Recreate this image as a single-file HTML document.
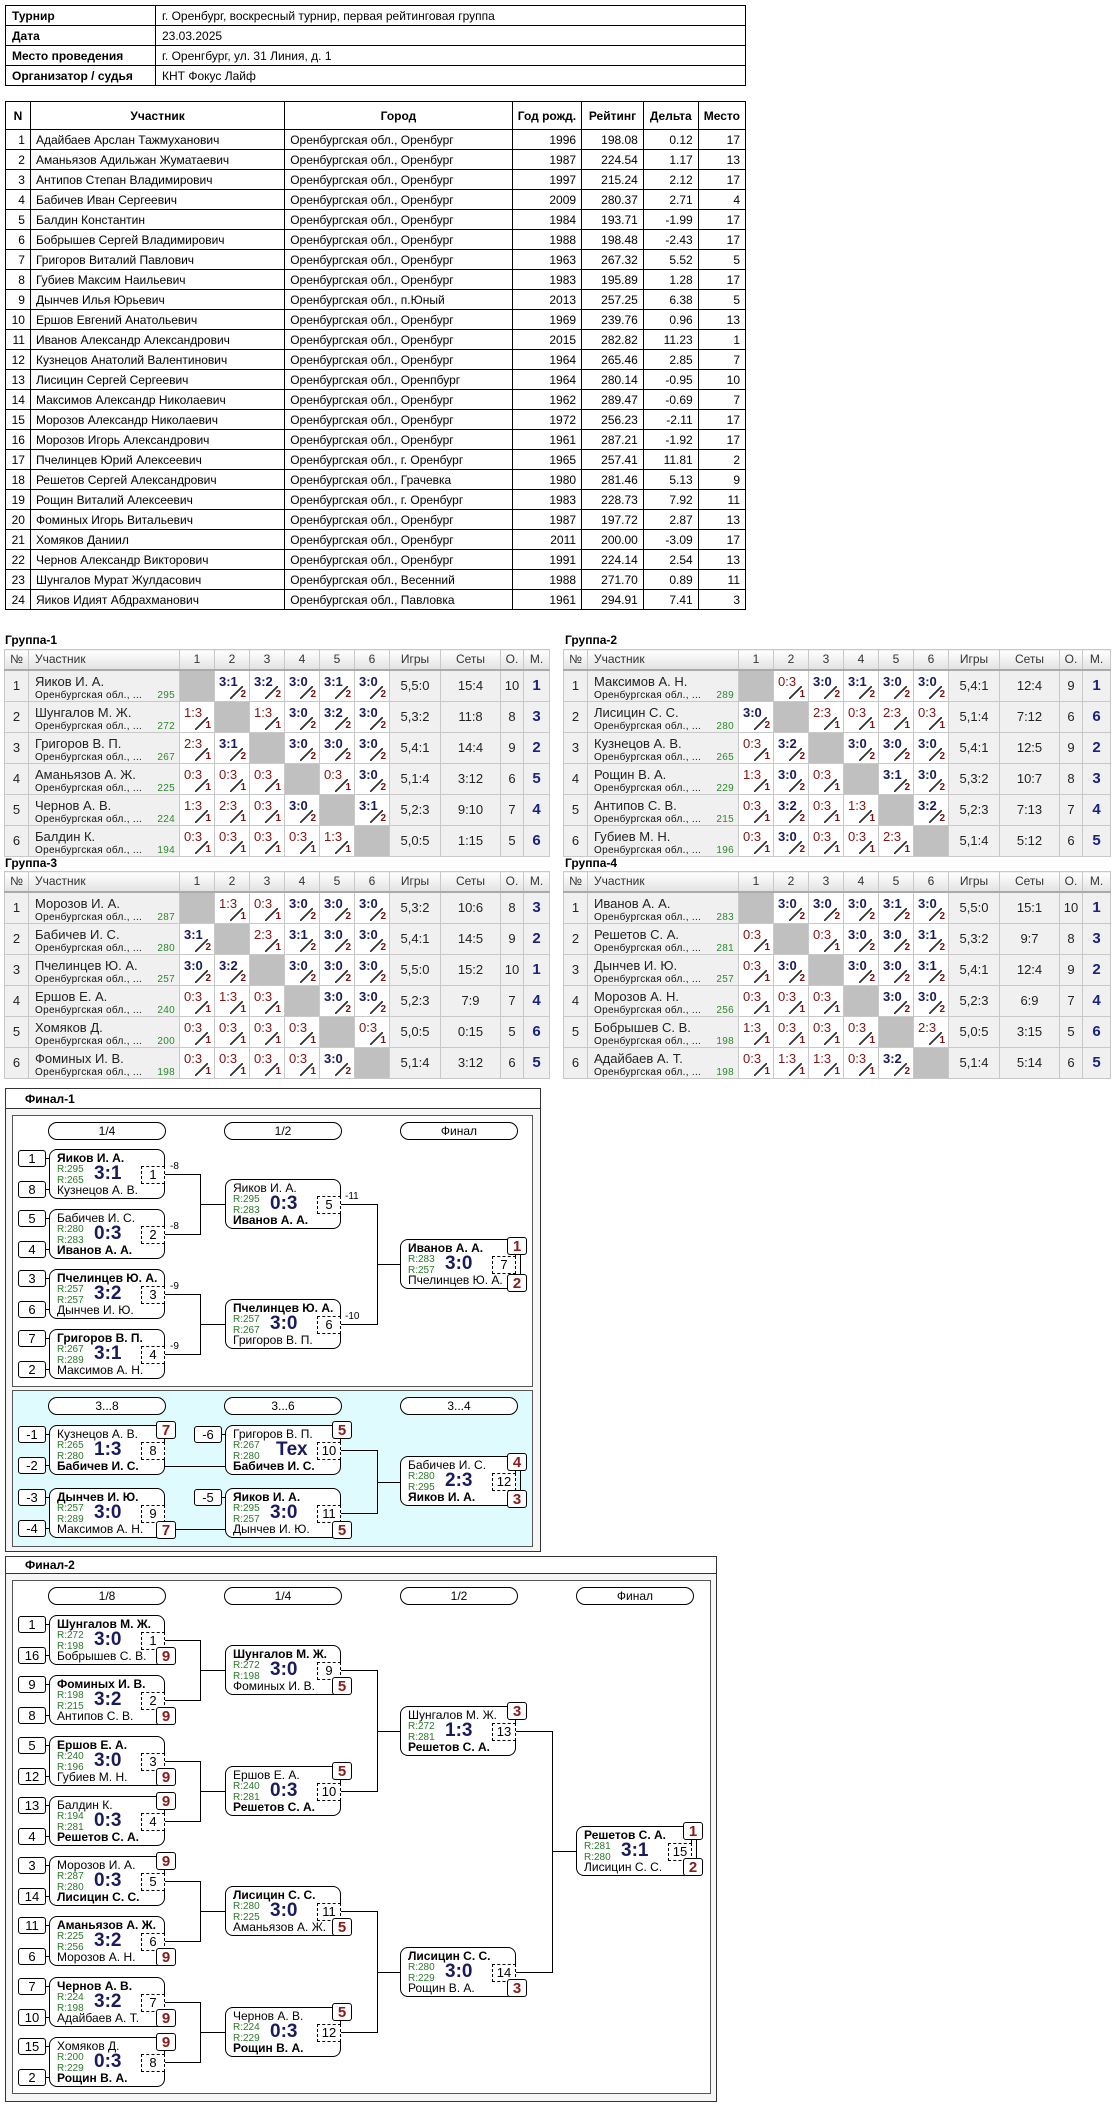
<!DOCTYPE html>
<html><head><meta charset="utf-8">
<style>
*{box-sizing:border-box}
body{margin:0;width:1116px;height:2103px;position:relative;background:#fff;font-family:"Liberation Sans",Arial,sans-serif;color:#000;overflow:hidden}
table{border-collapse:collapse;position:absolute}
.info td{border:1px solid #000;height:20px;font-size:12px;padding:0 6px}
.info td.l{font-weight:bold;width:150px}
.main td{border:1px solid #000;height:20px;font-size:12px;padding:0 5px;white-space:nowrap}
.main tr.hd td{height:28px;font-weight:bold;text-align:center}
.main td.r{text-align:right}
.gt{position:absolute;font-weight:bold;font-size:12px}
.g{table-layout:fixed}
.g td{border:1px solid #c8c8c8;height:30px;font-size:13px;color:#222;padding:0;position:relative;text-align:center}
.g tr.hd td{height:20px;background:linear-gradient(#fff,#e2e2e2);border-bottom:2px solid #aaa;font-size:12px;color:#333}
.g tr.hd td.u{text-align:left;padding-left:6px}
.g td.nm{background:#f0f0f0;text-align:left;padding-left:6px;vertical-align:top}
.g td.nm b{display:block;font-weight:normal;font-size:13px;line-height:13px;margin-top:4px}
.g td.nm s{text-decoration:none;display:block;font-size:10px;line-height:11px;margin-top:2px;letter-spacing:.3px;color:#111}
.g td.nm s em{font-style:normal;color:#2a8a2a;position:absolute;right:4px}
.g td.nb{background:#f0f0f0}
.g td.x{background:#c0c0c0}
.g td.st{background:#f0f0f0}
.g td.pl{background:#f0f0f0;font-weight:bold;font-size:15px;color:#1a237e}
.g td.c{background:#fff}
.c b,.c u{position:absolute;left:4px;top:3px;font-size:13px;text-decoration:none}
.c b{color:#1a1a5e}
.c u{color:#7a1515;font-weight:normal}
.c i{position:absolute;right:3px;bottom:1px;font-style:normal;font-weight:bold;font-size:10px;color:#7a1010}
.c:after{content:"";position:absolute;right:6px;bottom:2px;width:13px;height:13px;background:linear-gradient(to top left,transparent 46%,#333 46%,#333 54%,transparent 54%)}
.bx{position:absolute;border:1px solid #000}
.m{position:absolute;width:116px;height:50px;border:1px solid #000;border-radius:8px;background:#fff;font-size:12px;white-space:nowrap}
.m .a{position:absolute;left:7px;top:1px;line-height:15px}
.m .b{position:absolute;left:7px;top:33px;line-height:15px}
.m .w{font-weight:bold}
.m .r1,.m .r2{position:absolute;left:7px;font-size:10px;line-height:10px;color:#2a7a2a}
.m .r1{top:15px}.m .r2{top:26px}
.m .s{position:absolute;left:44px;top:13px;font-size:19px;font-weight:bold;color:#1a1a5e;line-height:22px}
.m .n{position:absolute;right:-1px;top:16px;width:24px;height:18px;border:1px dashed #000;font-size:13px;text-align:center;line-height:16px;background:#fff}
.sd{position:absolute;width:28px;height:17px;border:1px solid #000;border-radius:3px;font-size:13px;text-align:center;line-height:15px;background:#fff}
.sd:after{content:"";position:absolute;right:-6px;top:7px;width:5px;border-top:1px solid #000}
.p{position:absolute;width:20px;height:18px;border:1px solid #000;border-radius:3px;background:#fff;color:#8b1a1a;font-weight:bold;font-size:15px;text-align:center;line-height:17px}
.pill{position:absolute;width:118px;height:18px;border:1px solid #000;border-radius:9px;font-size:12px;text-align:center;line-height:16px;background:#fff}
.h{position:absolute;border-top:1px solid #000;height:0}
.v{position:absolute;border-left:1px solid #000;width:0}
.lb{position:absolute;font-size:10px}
</style></head><body>

<table class="info" style="left:5px;top:5px;width:741px">
<tr><td class="l">Турнир</td><td>г. Оренбург, воскресный турнир, первая рейтинговая группа</td></tr>
<tr><td class="l">Дата</td><td>23.03.2025</td></tr>
<tr><td class="l">Место проведения</td><td>г. Оренгбург, ул. 31 Линия, д. 1</td></tr>
<tr><td class="l">Организатор / судья</td><td>КНТ Фокус Лайф</td></tr>
</table>

<table class="main" style="left:5px;top:101px;width:741px">
<tr class="hd"><td style="width:25px">N</td><td style="width:257px">Участник</td><td style="width:230px">Город</td><td style="width:68px">Год рожд.</td><td style="width:62px">Рейтинг</td><td style="width:55px">Дельта</td><td style="width:44px">Место</td></tr>
<tr><td class="r">1</td><td>Адайбаев Арслан Тажмуханович</td><td>Оренбургская обл., Оренбург</td><td class="r">1996</td><td class="r">198.08</td><td class="r">0.12</td><td class="r">17</td></tr>
<tr><td class="r">2</td><td>Аманьязов Адильжан Жуматаевич</td><td>Оренбургская обл., Оренбург</td><td class="r">1987</td><td class="r">224.54</td><td class="r">1.17</td><td class="r">13</td></tr>
<tr><td class="r">3</td><td>Антипов Степан Владимирович</td><td>Оренбургская обл., Оренбург</td><td class="r">1997</td><td class="r">215.24</td><td class="r">2.12</td><td class="r">17</td></tr>
<tr><td class="r">4</td><td>Бабичев Иван Сергеевич</td><td>Оренбургская обл., Оренбург</td><td class="r">2009</td><td class="r">280.37</td><td class="r">2.71</td><td class="r">4</td></tr>
<tr><td class="r">5</td><td>Балдин Константин</td><td>Оренбургская обл., Оренбург</td><td class="r">1984</td><td class="r">193.71</td><td class="r">-1.99</td><td class="r">17</td></tr>
<tr><td class="r">6</td><td>Бобрышев Сергей Владимирович</td><td>Оренбургская обл., Оренбург</td><td class="r">1988</td><td class="r">198.48</td><td class="r">-2.43</td><td class="r">17</td></tr>
<tr><td class="r">7</td><td>Григоров Виталий Павлович</td><td>Оренбургская обл., Оренбург</td><td class="r">1963</td><td class="r">267.32</td><td class="r">5.52</td><td class="r">5</td></tr>
<tr><td class="r">8</td><td>Губиев Максим Наильевич</td><td>Оренбургская обл., Оренбург</td><td class="r">1983</td><td class="r">195.89</td><td class="r">1.28</td><td class="r">17</td></tr>
<tr><td class="r">9</td><td>Дынчев Илья Юрьевич</td><td>Оренбургская обл., п.Юный</td><td class="r">2013</td><td class="r">257.25</td><td class="r">6.38</td><td class="r">5</td></tr>
<tr><td class="r">10</td><td>Ершов Евгений Анатольевич</td><td>Оренбургская обл., Оренбург</td><td class="r">1969</td><td class="r">239.76</td><td class="r">0.96</td><td class="r">13</td></tr>
<tr><td class="r">11</td><td>Иванов Александр Александрович</td><td>Оренбургская обл., Оренбург</td><td class="r">2015</td><td class="r">282.82</td><td class="r">11.23</td><td class="r">1</td></tr>
<tr><td class="r">12</td><td>Кузнецов Анатолий Валентинович</td><td>Оренбургская обл., Оренбург</td><td class="r">1964</td><td class="r">265.46</td><td class="r">2.85</td><td class="r">7</td></tr>
<tr><td class="r">13</td><td>Лисицин Сергей Сергеевич</td><td>Оренбургская обл., Оренпбург</td><td class="r">1964</td><td class="r">280.14</td><td class="r">-0.95</td><td class="r">10</td></tr>
<tr><td class="r">14</td><td>Максимов Александр Николаевич</td><td>Оренбургская обл., Оренбург</td><td class="r">1962</td><td class="r">289.47</td><td class="r">-0.69</td><td class="r">7</td></tr>
<tr><td class="r">15</td><td>Морозов Александр Николаевич</td><td>Оренбургская обл., Оренбург</td><td class="r">1972</td><td class="r">256.23</td><td class="r">-2.11</td><td class="r">17</td></tr>
<tr><td class="r">16</td><td>Морозов Игорь Александрович</td><td>Оренбургская обл., Оренбург</td><td class="r">1961</td><td class="r">287.21</td><td class="r">-1.92</td><td class="r">17</td></tr>
<tr><td class="r">17</td><td>Пчелинцев Юрий Алексеевич</td><td>Оренбургская обл., г. Оренбург</td><td class="r">1965</td><td class="r">257.41</td><td class="r">11.81</td><td class="r">2</td></tr>
<tr><td class="r">18</td><td>Решетов Сергей Александрович</td><td>Оренбургская обл., Грачевка</td><td class="r">1980</td><td class="r">281.46</td><td class="r">5.13</td><td class="r">9</td></tr>
<tr><td class="r">19</td><td>Рощин Виталий Алексеевич</td><td>Оренбургская обл., г. Оренбург</td><td class="r">1983</td><td class="r">228.73</td><td class="r">7.92</td><td class="r">11</td></tr>
<tr><td class="r">20</td><td>Фоминых Игорь Витальевич</td><td>Оренбургская обл., Оренбург</td><td class="r">1987</td><td class="r">197.72</td><td class="r">2.87</td><td class="r">13</td></tr>
<tr><td class="r">21</td><td>Хомяков Даниил</td><td>Оренбургская обл., Оренбург</td><td class="r">2011</td><td class="r">200.00</td><td class="r">-3.09</td><td class="r">17</td></tr>
<tr><td class="r">22</td><td>Чернов Александр Викторович</td><td>Оренбургская обл., Оренбург</td><td class="r">1991</td><td class="r">224.14</td><td class="r">2.54</td><td class="r">13</td></tr>
<tr><td class="r">23</td><td>Шунгалов Мурат Жулдасович</td><td>Оренбургская обл., Весенний</td><td class="r">1988</td><td class="r">271.70</td><td class="r">0.89</td><td class="r">11</td></tr>
<tr><td class="r">24</td><td>Яиков Идият Абдрахманович</td><td>Оренбургская обл., Павловка</td><td class="r">1961</td><td class="r">294.91</td><td class="r">7.41</td><td class="r">3</td></tr>
</table>

<!-- GROUP 1 -->
<div class="gt" style="left:5px;top:633px">Группа-1</div>
<table class="g" style="left:4px;top:649px;width:545px">
<colgroup><col style="width:24px"><col style="width:151px"><col style="width:35px"><col style="width:35px"><col style="width:35px"><col style="width:35px"><col style="width:35px"><col style="width:35px"><col style="width:51px"><col style="width:60px"><col style="width:23px"><col style="width:26px"></colgroup>
<tr class="hd"><td>№</td><td class="u">Участник</td><td>1</td><td>2</td><td>3</td><td>4</td><td>5</td><td>6</td><td>Игры</td><td>Сеты</td><td>О.</td><td>М.</td></tr>
<tr><td class="nb">1</td><td class="nm"><b>Яиков И. А.</b><s>Оренбургская обл., ...<em>295</em></s></td><td class="x"></td><td class="c"><b>3:1</b><i>2</i></td><td class="c"><b>3:2</b><i>2</i></td><td class="c"><b>3:0</b><i>2</i></td><td class="c"><b>3:1</b><i>2</i></td><td class="c"><b>3:0</b><i>2</i></td><td class="st">5,5:0</td><td class="st">15:4</td><td class="st">10</td><td class="pl">1</td></tr>
<tr><td class="nb">2</td><td class="nm"><b>Шунгалов М. Ж.</b><s>Оренбургская обл., ...<em>272</em></s></td><td class="c"><u>1:3</u><i>1</i></td><td class="x"></td><td class="c"><u>1:3</u><i>1</i></td><td class="c"><b>3:0</b><i>2</i></td><td class="c"><b>3:2</b><i>2</i></td><td class="c"><b>3:0</b><i>2</i></td><td class="st">5,3:2</td><td class="st">11:8</td><td class="st">8</td><td class="pl">3</td></tr>
<tr><td class="nb">3</td><td class="nm"><b>Григоров В. П.</b><s>Оренбургская обл., ...<em>267</em></s></td><td class="c"><u>2:3</u><i>1</i></td><td class="c"><b>3:1</b><i>2</i></td><td class="x"></td><td class="c"><b>3:0</b><i>2</i></td><td class="c"><b>3:0</b><i>2</i></td><td class="c"><b>3:0</b><i>2</i></td><td class="st">5,4:1</td><td class="st">14:4</td><td class="st">9</td><td class="pl">2</td></tr>
<tr><td class="nb">4</td><td class="nm"><b>Аманьязов А. Ж.</b><s>Оренбургская обл., ...<em>225</em></s></td><td class="c"><u>0:3</u><i>1</i></td><td class="c"><u>0:3</u><i>1</i></td><td class="c"><u>0:3</u><i>1</i></td><td class="x"></td><td class="c"><u>0:3</u><i>1</i></td><td class="c"><b>3:0</b><i>2</i></td><td class="st">5,1:4</td><td class="st">3:12</td><td class="st">6</td><td class="pl">5</td></tr>
<tr><td class="nb">5</td><td class="nm"><b>Чернов А. В.</b><s>Оренбургская обл., ...<em>224</em></s></td><td class="c"><u>1:3</u><i>1</i></td><td class="c"><u>2:3</u><i>1</i></td><td class="c"><u>0:3</u><i>1</i></td><td class="c"><b>3:0</b><i>2</i></td><td class="x"></td><td class="c"><b>3:1</b><i>2</i></td><td class="st">5,2:3</td><td class="st">9:10</td><td class="st">7</td><td class="pl">4</td></tr>
<tr><td class="nb">6</td><td class="nm"><b>Балдин К.</b><s>Оренбургская обл., ...<em>194</em></s></td><td class="c"><u>0:3</u><i>1</i></td><td class="c"><u>0:3</u><i>1</i></td><td class="c"><u>0:3</u><i>1</i></td><td class="c"><u>0:3</u><i>1</i></td><td class="c"><u>1:3</u><i>1</i></td><td class="x"></td><td class="st">5,0:5</td><td class="st">1:15</td><td class="st">5</td><td class="pl">6</td></tr>
</table>

<!-- GROUP 2 -->
<div class="gt" style="left:565px;top:633px">Группа-2</div>
<table class="g" style="left:563px;top:649px;width:547px">
<colgroup><col style="width:24px"><col style="width:151px"><col style="width:35px"><col style="width:35px"><col style="width:35px"><col style="width:35px"><col style="width:35px"><col style="width:35px"><col style="width:51px"><col style="width:60px"><col style="width:23px"><col style="width:28px"></colgroup>
<tr class="hd"><td>№</td><td class="u">Участник</td><td>1</td><td>2</td><td>3</td><td>4</td><td>5</td><td>6</td><td>Игры</td><td>Сеты</td><td>О.</td><td>М.</td></tr>
<tr><td class="nb">1</td><td class="nm"><b>Максимов А. Н.</b><s>Оренбургская обл., ...<em>289</em></s></td><td class="x"></td><td class="c"><u>0:3</u><i>1</i></td><td class="c"><b>3:0</b><i>2</i></td><td class="c"><b>3:1</b><i>2</i></td><td class="c"><b>3:0</b><i>2</i></td><td class="c"><b>3:0</b><i>2</i></td><td class="st">5,4:1</td><td class="st">12:4</td><td class="st">9</td><td class="pl">1</td></tr>
<tr><td class="nb">2</td><td class="nm"><b>Лисицин С. С.</b><s>Оренбургская обл., ...<em>280</em></s></td><td class="c"><b>3:0</b><i>2</i></td><td class="x"></td><td class="c"><u>2:3</u><i>1</i></td><td class="c"><u>0:3</u><i>1</i></td><td class="c"><u>2:3</u><i>1</i></td><td class="c"><u>0:3</u><i>1</i></td><td class="st">5,1:4</td><td class="st">7:12</td><td class="st">6</td><td class="pl">6</td></tr>
<tr><td class="nb">3</td><td class="nm"><b>Кузнецов А. В.</b><s>Оренбургская обл., ...<em>265</em></s></td><td class="c"><u>0:3</u><i>1</i></td><td class="c"><b>3:2</b><i>2</i></td><td class="x"></td><td class="c"><b>3:0</b><i>2</i></td><td class="c"><b>3:0</b><i>2</i></td><td class="c"><b>3:0</b><i>2</i></td><td class="st">5,4:1</td><td class="st">12:5</td><td class="st">9</td><td class="pl">2</td></tr>
<tr><td class="nb">4</td><td class="nm"><b>Рощин В. А.</b><s>Оренбургская обл., ...<em>229</em></s></td><td class="c"><u>1:3</u><i>1</i></td><td class="c"><b>3:0</b><i>2</i></td><td class="c"><u>0:3</u><i>1</i></td><td class="x"></td><td class="c"><b>3:1</b><i>2</i></td><td class="c"><b>3:0</b><i>2</i></td><td class="st">5,3:2</td><td class="st">10:7</td><td class="st">8</td><td class="pl">3</td></tr>
<tr><td class="nb">5</td><td class="nm"><b>Антипов С. В.</b><s>Оренбургская обл., ...<em>215</em></s></td><td class="c"><u>0:3</u><i>1</i></td><td class="c"><b>3:2</b><i>2</i></td><td class="c"><u>0:3</u><i>1</i></td><td class="c"><u>1:3</u><i>1</i></td><td class="x"></td><td class="c"><b>3:2</b><i>2</i></td><td class="st">5,2:3</td><td class="st">7:13</td><td class="st">7</td><td class="pl">4</td></tr>
<tr><td class="nb">6</td><td class="nm"><b>Губиев М. Н.</b><s>Оренбургская обл., ...<em>196</em></s></td><td class="c"><u>0:3</u><i>1</i></td><td class="c"><b>3:0</b><i>2</i></td><td class="c"><u>0:3</u><i>1</i></td><td class="c"><u>0:3</u><i>1</i></td><td class="c"><u>2:3</u><i>1</i></td><td class="x"></td><td class="st">5,1:4</td><td class="st">5:12</td><td class="st">6</td><td class="pl">5</td></tr>
</table>

<!-- GROUP 3 -->
<div class="gt" style="left:5px;top:856px">Группа-3</div>
<table class="g" style="left:4px;top:871px;width:545px">
<colgroup><col style="width:24px"><col style="width:151px"><col style="width:35px"><col style="width:35px"><col style="width:35px"><col style="width:35px"><col style="width:35px"><col style="width:35px"><col style="width:51px"><col style="width:60px"><col style="width:23px"><col style="width:26px"></colgroup>
<tr class="hd"><td>№</td><td class="u">Участник</td><td>1</td><td>2</td><td>3</td><td>4</td><td>5</td><td>6</td><td>Игры</td><td>Сеты</td><td>О.</td><td>М.</td></tr>
<tr><td class="nb">1</td><td class="nm"><b>Морозов И. А.</b><s>Оренбургская обл., ...<em>287</em></s></td><td class="x"></td><td class="c"><u>1:3</u><i>1</i></td><td class="c"><u>0:3</u><i>1</i></td><td class="c"><b>3:0</b><i>2</i></td><td class="c"><b>3:0</b><i>2</i></td><td class="c"><b>3:0</b><i>2</i></td><td class="st">5,3:2</td><td class="st">10:6</td><td class="st">8</td><td class="pl">3</td></tr>
<tr><td class="nb">2</td><td class="nm"><b>Бабичев И. С.</b><s>Оренбургская обл., ...<em>280</em></s></td><td class="c"><b>3:1</b><i>2</i></td><td class="x"></td><td class="c"><u>2:3</u><i>1</i></td><td class="c"><b>3:1</b><i>2</i></td><td class="c"><b>3:0</b><i>2</i></td><td class="c"><b>3:0</b><i>2</i></td><td class="st">5,4:1</td><td class="st">14:5</td><td class="st">9</td><td class="pl">2</td></tr>
<tr><td class="nb">3</td><td class="nm"><b>Пчелинцев Ю. А.</b><s>Оренбургская обл., ...<em>257</em></s></td><td class="c"><b>3:0</b><i>2</i></td><td class="c"><b>3:2</b><i>2</i></td><td class="x"></td><td class="c"><b>3:0</b><i>2</i></td><td class="c"><b>3:0</b><i>2</i></td><td class="c"><b>3:0</b><i>2</i></td><td class="st">5,5:0</td><td class="st">15:2</td><td class="st">10</td><td class="pl">1</td></tr>
<tr><td class="nb">4</td><td class="nm"><b>Ершов Е. А.</b><s>Оренбургская обл., ...<em>240</em></s></td><td class="c"><u>0:3</u><i>1</i></td><td class="c"><u>1:3</u><i>1</i></td><td class="c"><u>0:3</u><i>1</i></td><td class="x"></td><td class="c"><b>3:0</b><i>2</i></td><td class="c"><b>3:0</b><i>2</i></td><td class="st">5,2:3</td><td class="st">7:9</td><td class="st">7</td><td class="pl">4</td></tr>
<tr><td class="nb">5</td><td class="nm"><b>Хомяков Д.</b><s>Оренбургская обл., ...<em>200</em></s></td><td class="c"><u>0:3</u><i>1</i></td><td class="c"><u>0:3</u><i>1</i></td><td class="c"><u>0:3</u><i>1</i></td><td class="c"><u>0:3</u><i>1</i></td><td class="x"></td><td class="c"><u>0:3</u><i>1</i></td><td class="st">5,0:5</td><td class="st">0:15</td><td class="st">5</td><td class="pl">6</td></tr>
<tr><td class="nb">6</td><td class="nm"><b>Фоминых И. В.</b><s>Оренбургская обл., ...<em>198</em></s></td><td class="c"><u>0:3</u><i>1</i></td><td class="c"><u>0:3</u><i>1</i></td><td class="c"><u>0:3</u><i>1</i></td><td class="c"><u>0:3</u><i>1</i></td><td class="c"><b>3:0</b><i>2</i></td><td class="x"></td><td class="st">5,1:4</td><td class="st">3:12</td><td class="st">6</td><td class="pl">5</td></tr>
</table>

<!-- GROUP 4 -->
<div class="gt" style="left:565px;top:856px">Группа-4</div>
<table class="g" style="left:563px;top:871px;width:547px">
<colgroup><col style="width:24px"><col style="width:151px"><col style="width:35px"><col style="width:35px"><col style="width:35px"><col style="width:35px"><col style="width:35px"><col style="width:35px"><col style="width:51px"><col style="width:60px"><col style="width:23px"><col style="width:28px"></colgroup>
<tr class="hd"><td>№</td><td class="u">Участник</td><td>1</td><td>2</td><td>3</td><td>4</td><td>5</td><td>6</td><td>Игры</td><td>Сеты</td><td>О.</td><td>М.</td></tr>
<tr><td class="nb">1</td><td class="nm"><b>Иванов А. А.</b><s>Оренбургская обл., ...<em>283</em></s></td><td class="x"></td><td class="c"><b>3:0</b><i>2</i></td><td class="c"><b>3:0</b><i>2</i></td><td class="c"><b>3:0</b><i>2</i></td><td class="c"><b>3:1</b><i>2</i></td><td class="c"><b>3:0</b><i>2</i></td><td class="st">5,5:0</td><td class="st">15:1</td><td class="st">10</td><td class="pl">1</td></tr>
<tr><td class="nb">2</td><td class="nm"><b>Решетов С. А.</b><s>Оренбургская обл., ...<em>281</em></s></td><td class="c"><u>0:3</u><i>1</i></td><td class="x"></td><td class="c"><u>0:3</u><i>1</i></td><td class="c"><b>3:0</b><i>2</i></td><td class="c"><b>3:0</b><i>2</i></td><td class="c"><b>3:1</b><i>2</i></td><td class="st">5,3:2</td><td class="st">9:7</td><td class="st">8</td><td class="pl">3</td></tr>
<tr><td class="nb">3</td><td class="nm"><b>Дынчев И. Ю.</b><s>Оренбургская обл., ...<em>257</em></s></td><td class="c"><u>0:3</u><i>1</i></td><td class="c"><b>3:0</b><i>2</i></td><td class="x"></td><td class="c"><b>3:0</b><i>2</i></td><td class="c"><b>3:0</b><i>2</i></td><td class="c"><b>3:1</b><i>2</i></td><td class="st">5,4:1</td><td class="st">12:4</td><td class="st">9</td><td class="pl">2</td></tr>
<tr><td class="nb">4</td><td class="nm"><b>Морозов А. Н.</b><s>Оренбургская обл., ...<em>256</em></s></td><td class="c"><u>0:3</u><i>1</i></td><td class="c"><u>0:3</u><i>1</i></td><td class="c"><u>0:3</u><i>1</i></td><td class="x"></td><td class="c"><b>3:0</b><i>2</i></td><td class="c"><b>3:0</b><i>2</i></td><td class="st">5,2:3</td><td class="st">6:9</td><td class="st">7</td><td class="pl">4</td></tr>
<tr><td class="nb">5</td><td class="nm"><b>Бобрышев С. В.</b><s>Оренбургская обл., ...<em>198</em></s></td><td class="c"><u>1:3</u><i>1</i></td><td class="c"><u>0:3</u><i>1</i></td><td class="c"><u>0:3</u><i>1</i></td><td class="c"><u>0:3</u><i>1</i></td><td class="x"></td><td class="c"><u>2:3</u><i>1</i></td><td class="st">5,0:5</td><td class="st">3:15</td><td class="st">5</td><td class="pl">6</td></tr>
<tr><td class="nb">6</td><td class="nm"><b>Адайбаев А. Т.</b><s>Оренбургская обл., ...<em>198</em></s></td><td class="c"><u>0:3</u><i>1</i></td><td class="c"><u>1:3</u><i>1</i></td><td class="c"><u>1:3</u><i>1</i></td><td class="c"><u>0:3</u><i>1</i></td><td class="c"><b>3:2</b><i>2</i></td><td class="x"></td><td class="st">5,1:4</td><td class="st">5:14</td><td class="st">6</td><td class="pl">5</td></tr>
</table>

<!-- FINAL 1 -->
<div class="bx" style="left:5px;top:1088px;width:536px;height:464px;background:#f6f6f6;border-color:#333"></div>
<div class="bx" style="left:5px;top:1088px;width:536px;height:21px;background:#fff;border-color:#333"></div>
<div class="gt" style="left:25px;top:1092px">Финал-1</div>
<div class="bx" style="left:12px;top:1115px;width:521px;height:272px;background:#fff;border-color:#555"></div>
<div class="bx" style="left:12px;top:1390px;width:521px;height:157px;background:#dffbfd;border-color:#555"></div>

<div class="pill" style="left:48px;top:1122px">1/4</div>
<div class="pill" style="left:224px;top:1122px">1/2</div>
<div class="pill" style="left:400px;top:1122px">Финал</div>

<div class="sd" style="left:18px;top:1150px">1</div><div class="sd" style="left:18px;top:1181px">8</div>
<div class="sd" style="left:18px;top:1210px">5</div><div class="sd" style="left:18px;top:1241px">4</div>
<div class="sd" style="left:18px;top:1270px">3</div><div class="sd" style="left:18px;top:1301px">6</div>
<div class="sd" style="left:18px;top:1330px">7</div><div class="sd" style="left:18px;top:1361px">2</div>

<div class="m" style="left:49px;top:1149px"><div class="a w">Яиков И. А.</div><div class="r1">R:295</div><div class="r2">R:265</div><div class="s">3:1</div><div class="b">Кузнецов А. В.</div><div class="n">1</div></div>
<div class="m" style="left:49px;top:1209px"><div class="a">Бабичев И. С.</div><div class="r1">R:280</div><div class="r2">R:283</div><div class="s">0:3</div><div class="b w">Иванов А. А.</div><div class="n">2</div></div>
<div class="m" style="left:49px;top:1269px"><div class="a w">Пчелинцев Ю. А.</div><div class="r1">R:257</div><div class="r2">R:257</div><div class="s">3:2</div><div class="b">Дынчев И. Ю.</div><div class="n">3</div></div>
<div class="m" style="left:49px;top:1329px"><div class="a w">Григоров В. П.</div><div class="r1">R:267</div><div class="r2">R:289</div><div class="s">3:1</div><div class="b">Максимов А. Н.</div><div class="n">4</div></div>
<div class="m" style="left:225px;top:1179px"><div class="a">Яиков И. А.</div><div class="r1">R:295</div><div class="r2">R:283</div><div class="s">0:3</div><div class="b w">Иванов А. А.</div><div class="n">5</div></div>
<div class="m" style="left:225px;top:1299px"><div class="a w">Пчелинцев Ю. А.</div><div class="r1">R:257</div><div class="r2">R:267</div><div class="s">3:0</div><div class="b">Григоров В. П.</div><div class="n">6</div></div>
<div class="m" style="left:400px;top:1239px"><div class="a w">Иванов А. А.</div><div class="r1">R:283</div><div class="r2">R:257</div><div class="s">3:0</div><div class="b">Пчелинцев Ю. А.</div><div class="n">7</div></div>

<div class="h" style="left:165px;top:1174px;width:35px"></div><div class="h" style="left:165px;top:1234px;width:35px"></div>
<div class="h" style="left:165px;top:1294px;width:35px"></div><div class="h" style="left:165px;top:1354px;width:35px"></div>
<div class="v" style="left:200px;top:1174px;height:61px"></div><div class="v" style="left:200px;top:1294px;height:61px"></div>
<div class="h" style="left:200px;top:1204px;width:25px"></div><div class="h" style="left:200px;top:1324px;width:25px"></div>
<div class="h" style="left:341px;top:1204px;width:36px"></div><div class="h" style="left:341px;top:1324px;width:36px"></div>
<div class="v" style="left:377px;top:1204px;height:121px"></div>
<div class="h" style="left:377px;top:1264px;width:23px"></div>
<div class="lb" style="left:170px;top:1161px">-8</div><div class="lb" style="left:170px;top:1221px">-8</div>
<div class="lb" style="left:170px;top:1281px">-9</div><div class="lb" style="left:170px;top:1341px">-9</div>
<div class="lb" style="left:345px;top:1191px">-11</div><div class="lb" style="left:345px;top:1311px">-10</div>
<div class="v" style="left:520px;top:1254px;height:22px"></div>
<div class="p" style="left:507px;top:1237px">1</div><div class="p" style="left:507px;top:1274px">2</div>

<div class="pill" style="left:48px;top:1397px">3...8</div>
<div class="pill" style="left:224px;top:1397px">3...6</div>
<div class="pill" style="left:400px;top:1397px">3...4</div>
<div class="sd" style="left:18px;top:1426px">-1</div><div class="sd" style="left:18px;top:1457px">-2</div>
<div class="sd" style="left:18px;top:1489px">-3</div><div class="sd" style="left:18px;top:1520px">-4</div>
<div class="sd" style="left:194px;top:1426px">-6</div><div class="sd" style="left:194px;top:1489px">-5</div>
<div class="m" style="left:49px;top:1425px"><div class="a">Кузнецов А. В.</div><div class="r1">R:265</div><div class="r2">R:280</div><div class="s">1:3</div><div class="b w">Бабичев И. С.</div><div class="n">8</div></div>
<div class="m" style="left:49px;top:1488px"><div class="a w">Дынчев И. Ю.</div><div class="r1">R:257</div><div class="r2">R:289</div><div class="s">3:0</div><div class="b">Максимов А. Н.</div><div class="n">9</div></div>
<div class="m" style="left:225px;top:1425px"><div class="a">Григоров В. П.</div><div class="r1">R:267</div><div class="r2">R:280</div><div class="s" style="left:50px">Тех</div><div class="b w">Бабичев И. С.</div><div class="n">10</div></div>
<div class="m" style="left:225px;top:1488px"><div class="a w">Яиков И. А.</div><div class="r1">R:295</div><div class="r2">R:257</div><div class="s">3:0</div><div class="b">Дынчев И. Ю.</div><div class="n">11</div></div>
<div class="m" style="left:400px;top:1456px"><div class="a">Бабичев И. С.</div><div class="r1">R:280</div><div class="r2">R:295</div><div class="s">2:3</div><div class="b w">Яиков И. А.</div><div class="n">12</div></div>
<div class="h" style="left:165px;top:1466px;width:60px"></div>
<div class="h" style="left:165px;top:1529px;width:60px"></div>
<div class="h" style="left:341px;top:1450px;width:36px"></div><div class="h" style="left:341px;top:1513px;width:36px"></div>
<div class="v" style="left:377px;top:1450px;height:64px"></div>
<div class="h" style="left:377px;top:1482px;width:23px"></div>
<div class="p" style="left:156px;top:1421px">7</div><div class="p" style="left:156px;top:1521px">7</div>
<div class="p" style="left:332px;top:1421px">5</div><div class="p" style="left:332px;top:1521px">5</div>
<div class="v" style="left:520px;top:1470px;height:22px"></div>
<div class="p" style="left:507px;top:1453px">4</div><div class="p" style="left:507px;top:1490px">3</div>

<!-- FINAL 2 -->
<div class="bx" style="left:5px;top:1556px;width:712px;height:546px;background:#f6f6f6;border-color:#333"></div>
<div class="bx" style="left:5px;top:1556px;width:712px;height:18px;background:#fff;border-color:#333"></div>
<div class="gt" style="left:25px;top:1558px">Финал-2</div>
<div class="bx" style="left:12px;top:1580px;width:699px;height:514px;background:#fff;border-color:#555"></div>

<div class="pill" style="left:48px;top:1587px">1/8</div>
<div class="pill" style="left:224px;top:1587px">1/4</div>
<div class="pill" style="left:400px;top:1587px">1/2</div>
<div class="pill" style="left:576px;top:1587px">Финал</div>

<div class="sd" style="left:18px;top:1616px">1</div><div class="sd" style="left:18px;top:1647px">16</div>
<div class="sd" style="left:18px;top:1676px">9</div><div class="sd" style="left:18px;top:1707px">8</div>
<div class="sd" style="left:18px;top:1737px">5</div><div class="sd" style="left:18px;top:1768px">12</div>
<div class="sd" style="left:18px;top:1797px">13</div><div class="sd" style="left:18px;top:1828px">4</div>
<div class="sd" style="left:18px;top:1857px">3</div><div class="sd" style="left:18px;top:1888px">14</div>
<div class="sd" style="left:18px;top:1917px">11</div><div class="sd" style="left:18px;top:1948px">6</div>
<div class="sd" style="left:18px;top:1978px">7</div><div class="sd" style="left:18px;top:2009px">10</div>
<div class="sd" style="left:18px;top:2038px">15</div><div class="sd" style="left:18px;top:2069px">2</div>

<div class="m" style="left:49px;top:1615px"><div class="a w">Шунгалов М. Ж.</div><div class="r1">R:272</div><div class="r2">R:198</div><div class="s">3:0</div><div class="b">Бобрышев С. В.</div><div class="n">1</div></div>
<div class="m" style="left:49px;top:1675px"><div class="a w">Фоминых И. В.</div><div class="r1">R:198</div><div class="r2">R:215</div><div class="s">3:2</div><div class="b">Антипов С. В.</div><div class="n">2</div></div>
<div class="m" style="left:49px;top:1736px"><div class="a w">Ершов Е. А.</div><div class="r1">R:240</div><div class="r2">R:196</div><div class="s">3:0</div><div class="b">Губиев М. Н.</div><div class="n">3</div></div>
<div class="m" style="left:49px;top:1796px"><div class="a">Балдин К.</div><div class="r1">R:194</div><div class="r2">R:281</div><div class="s">0:3</div><div class="b w">Решетов С. А.</div><div class="n">4</div></div>
<div class="m" style="left:49px;top:1856px"><div class="a">Морозов И. А.</div><div class="r1">R:287</div><div class="r2">R:280</div><div class="s">0:3</div><div class="b w">Лисицин С. С.</div><div class="n">5</div></div>
<div class="m" style="left:49px;top:1916px"><div class="a w">Аманьязов А. Ж.</div><div class="r1">R:225</div><div class="r2">R:256</div><div class="s">3:2</div><div class="b">Морозов А. Н.</div><div class="n">6</div></div>
<div class="m" style="left:49px;top:1977px"><div class="a w">Чернов А. В.</div><div class="r1">R:224</div><div class="r2">R:198</div><div class="s">3:2</div><div class="b">Адайбаев А. Т.</div><div class="n">7</div></div>
<div class="m" style="left:49px;top:2037px"><div class="a">Хомяков Д.</div><div class="r1">R:200</div><div class="r2">R:229</div><div class="s">0:3</div><div class="b w">Рощин В. А.</div><div class="n">8</div></div>

<div class="m" style="left:225px;top:1645px"><div class="a w">Шунгалов М. Ж.</div><div class="r1">R:272</div><div class="r2">R:198</div><div class="s">3:0</div><div class="b">Фоминых И. В.</div><div class="n">9</div></div>
<div class="m" style="left:225px;top:1766px"><div class="a">Ершов Е. А.</div><div class="r1">R:240</div><div class="r2">R:281</div><div class="s">0:3</div><div class="b w">Решетов С. А.</div><div class="n">10</div></div>
<div class="m" style="left:225px;top:1886px"><div class="a w">Лисицин С. С.</div><div class="r1">R:280</div><div class="r2">R:225</div><div class="s">3:0</div><div class="b">Аманьязов А. Ж.</div><div class="n">11</div></div>
<div class="m" style="left:225px;top:2007px"><div class="a">Чернов А. В.</div><div class="r1">R:224</div><div class="r2">R:229</div><div class="s">0:3</div><div class="b w">Рощин В. А.</div><div class="n">12</div></div>

<div class="m" style="left:400px;top:1706px"><div class="a">Шунгалов М. Ж.</div><div class="r1">R:272</div><div class="r2">R:281</div><div class="s">1:3</div><div class="b w">Решетов С. А.</div><div class="n">13</div></div>
<div class="m" style="left:400px;top:1947px"><div class="a w">Лисицин С. С.</div><div class="r1">R:280</div><div class="r2">R:229</div><div class="s">3:0</div><div class="b">Рощин В. А.</div><div class="n">14</div></div>

<div class="m" style="left:576px;top:1826px"><div class="a w">Решетов С. А.</div><div class="r1">R:281</div><div class="r2">R:280</div><div class="s">3:1</div><div class="b">Лисицин С. С.</div><div class="n">15</div></div>

<div class="h" style="left:165px;top:1640px;width:35px"></div><div class="h" style="left:165px;top:1700px;width:35px"></div>
<div class="h" style="left:165px;top:1761px;width:35px"></div><div class="h" style="left:165px;top:1821px;width:35px"></div>
<div class="h" style="left:165px;top:1881px;width:35px"></div><div class="h" style="left:165px;top:1941px;width:35px"></div>
<div class="h" style="left:165px;top:2002px;width:35px"></div><div class="h" style="left:165px;top:2062px;width:35px"></div>
<div class="v" style="left:200px;top:1640px;height:61px"></div><div class="v" style="left:200px;top:1761px;height:61px"></div>
<div class="v" style="left:200px;top:1881px;height:61px"></div><div class="v" style="left:200px;top:2002px;height:61px"></div>
<div class="h" style="left:200px;top:1670px;width:25px"></div><div class="h" style="left:200px;top:1791px;width:25px"></div>
<div class="h" style="left:200px;top:1911px;width:25px"></div><div class="h" style="left:200px;top:2032px;width:25px"></div>
<div class="h" style="left:341px;top:1670px;width:36px"></div><div class="h" style="left:341px;top:1791px;width:36px"></div>
<div class="h" style="left:341px;top:1911px;width:36px"></div><div class="h" style="left:341px;top:2032px;width:36px"></div>
<div class="v" style="left:377px;top:1670px;height:122px"></div><div class="v" style="left:377px;top:1911px;height:122px"></div>
<div class="h" style="left:377px;top:1731px;width:23px"></div><div class="h" style="left:377px;top:1972px;width:23px"></div>
<div class="h" style="left:516px;top:1731px;width:36px"></div><div class="h" style="left:516px;top:1972px;width:36px"></div>
<div class="v" style="left:552px;top:1731px;height:242px"></div>
<div class="h" style="left:552px;top:1851px;width:24px"></div>

<div class="p" style="left:156px;top:1647px">9</div>
<div class="p" style="left:156px;top:1707px">9</div>
<div class="p" style="left:156px;top:1768px">9</div>
<div class="p" style="left:156px;top:1792px">9</div>
<div class="p" style="left:156px;top:1852px">9</div>
<div class="p" style="left:156px;top:1948px">9</div>
<div class="p" style="left:156px;top:2009px">9</div>
<div class="p" style="left:156px;top:2033px">9</div>
<div class="p" style="left:332px;top:1677px">5</div>
<div class="p" style="left:332px;top:1762px">5</div>
<div class="p" style="left:332px;top:1918px">5</div>
<div class="p" style="left:332px;top:2003px">5</div>
<div class="p" style="left:507px;top:1702px">3</div>
<div class="p" style="left:507px;top:1979px">3</div>
<div class="v" style="left:696px;top:1840px;height:22px"></div>
<div class="p" style="left:683px;top:1822px">1</div>
<div class="p" style="left:683px;top:1858px">2</div>

</body></html>
